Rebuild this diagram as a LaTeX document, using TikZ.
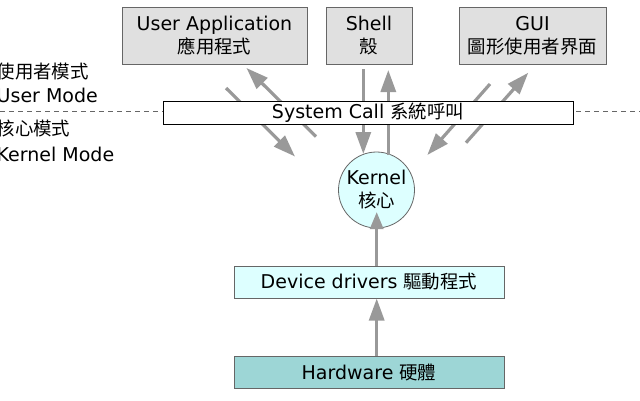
\documentclass[tikz,border=0pt]{standalone}
\usepackage{fontspec}
\setmainfont{DejaVu Sans}
\newfontfamily\cjk[Scale=0.97]{Noto Sans CJK TC}
\usetikzlibrary{arrows.meta}
\definecolor{boxgray}{HTML}{E0E0E0}
\definecolor{edgegray}{HTML}{666666}
\definecolor{arrgray}{HTML}{999999}
\definecolor{lightcyan}{HTML}{DDFFFF}
\definecolor{teal}{HTML}{9DD6D6}
\begin{document}
\begin{tikzpicture}[x=1pt,y=-1pt,
  font=\fontsize{19}{23}\selectfont,
  topbox/.style={draw=edgegray, fill=boxgray, line width=1pt, align=center, inner sep=0pt, minimum height=57pt},
  callbox/.style={draw=black, fill=white, line width=0.9pt, inner sep=0pt, minimum width=410pt, minimum height=23pt},
  drvbox/.style={draw=edgegray, line width=1pt, inner sep=0pt, minimum width=270pt, minimum height=32pt},
  kern/.style={circle, draw=edgegray, fill=lightcyan, line width=0.8pt, align=center, inner sep=0pt, minimum size=76pt},
  lbl/.style={anchor=west, inner sep=0pt},
  arr/.style={draw=arrgray, line width=3.2pt, -{Triangle[length=22pt,width=15pt]}},
]
\useasboundingbox (0,0) rectangle (640,400);
% dashed boundary
\coordinate (dl) at (0,111.5);
\coordinate (dr) at (640,111.5);
\draw[edgegray, line width=1pt, dash pattern=on 5pt off 4pt] (dl) -- (dr);
% mode labels
\node[lbl] (um1) at (-3.5,72) {\cjk 使用者模式};
\node[lbl] (um2) at (-3.5,95.5) {User Mode};
\node[lbl] (km1) at (-3.5,128) {\cjk 核心模式};
\node[lbl] (km2) at (-3.5,154.5) {Kernel Mode};
% top boxes
\node[topbox, minimum width=185pt] (ua) at (214.5,35.5) {User Application\\{\cjk 應用程式}};
\node[topbox, minimum width=86pt] (sh) at (369,35.5) {Shell\\{\cjk 殼}};
\node[topbox, minimum width=147pt] (gui) at (532.5,35.5) {GUI\\{\cjk 圖形使用者界面}};
% kernel
\node[kern] (k) at (376.5,190) {Kernel\\{\cjk 核心}};
% drivers and hardware
\node[drvbox, fill=lightcyan] (drv) at (369,282) {Device drivers {\cjk 驅動程式}};
\node[drvbox, fill=teal] (hw) at (369,372.5) {Hardware {\cjk 硬體}};
% arrow end points
\coordinate (uad1) at (226,88);
\coordinate (uad2) at (295,156.5);
\coordinate (uau1) at (316,136.5);
\coordinate (uau2) at (246.5,68);
\coordinate (shd1) at (363.3,69);
\coordinate (shd2) at (363.3,154);
\coordinate (shu1) at (388.3,155);
\coordinate (shu2) at (388.3,70);
\coordinate (gud1) at (490,84);
\coordinate (gud2) at (427.3,155);
\coordinate (guu1) at (466,142.7);
\coordinate (guu2) at (528.3,72.7);
\coordinate (kin) at (376.7,212);
% arrows
\draw[arr] (uad1) -- (uad2);
\draw[arr] (uau1) -- (uau2);
\draw[arr] (shd1) -- (shd2);
\draw[arr] (shu1) -- (shu2);
\draw[arr] (gud1) -- (gud2);
\draw[arr] (guu1) -- (guu2);
\draw[arr] (hw.north -| kin) -- (drv.south -| kin);
\draw[arr, -{Triangle[length=17pt,width=13pt]}] (drv.north -| kin) -- (kin);
% system call (drawn over the arrows)
\node[callbox] (sc) at (368,112.5) {System Call {\cjk 系統呼叫}};
\end{tikzpicture}
\end{document}
